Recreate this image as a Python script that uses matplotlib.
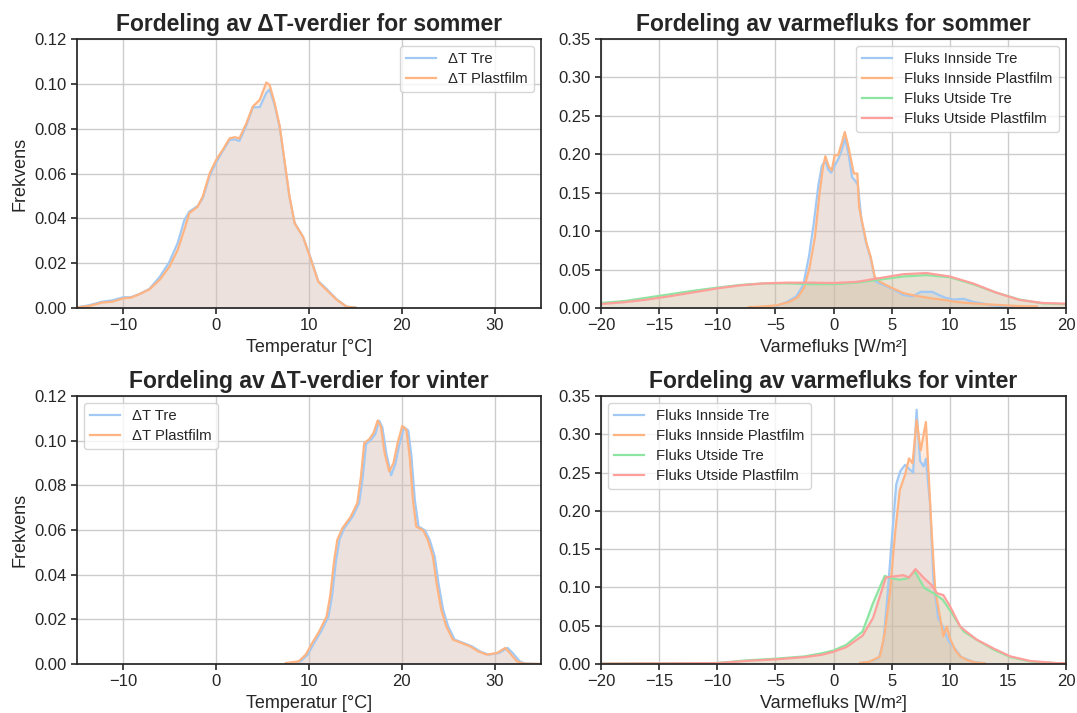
import matplotlib
matplotlib.use("Agg")
import matplotlib.pyplot as plt
from matplotlib.ticker import FormatStrFormatter

# ---------------- data ----------------
# Temperature difference, summer
dt_summer_x = [-15, -13.7, -12.3, -11.2, -10, -9.2, -8.3, -7.2, -6.1, -5.05, -4.15, -3.45,
               -2.9, -2.0, -1.45, -0.7, 0, 0.7, 1.45, 2.0, 2.5, 3.25, 3.95, 4.7, 5.4, 5.75,
               6.3, 6.85, 7.4, 7.9, 8.45, 9.35, 10.1, 11.0, 11.9, 13.0, 14.05, 15.0]
dt_summer_tre = [0.0003, 0.0012, 0.0028, 0.0034, 0.0048, 0.0048, 0.0062, 0.0085, 0.0138, 0.0205,
                 0.0290, 0.0390, 0.0430, 0.0455, 0.0490, 0.0590, 0.0650, 0.0700, 0.0750, 0.0752,
                 0.0745, 0.0815, 0.0895, 0.0896, 0.0960, 0.0975, 0.0905, 0.0805, 0.0640, 0.0495,
                 0.0380, 0.0318, 0.0232, 0.0120, 0.0085, 0.0038, 0.0006, 0.0002]
dt_summer_plast = [0.0003, 0.0009, 0.0024, 0.0028, 0.0043, 0.0046, 0.0061, 0.0083, 0.0125, 0.0184,
                   0.0259, 0.0348, 0.0423, 0.0452, 0.0497, 0.0601, 0.0661, 0.0705, 0.0757, 0.0762,
                   0.0757, 0.0824, 0.0899, 0.0929, 0.1006, 0.0996, 0.0914, 0.0810, 0.0646, 0.0497,
                   0.0378, 0.0318, 0.0229, 0.0117, 0.0080, 0.0036, 0.0006, 0.0002]

# Temperature difference, winter
dt_winter_tre_x = [7.8, 9.1, 9.85, 10.55, 11.3, 12.1, 12.5, 12.9, 13.3, 13.8, 14.7, 15.4, 15.8,
                   16.15, 16.7, 17.15, 17.55, 17.9, 18.35, 18.85, 19.3, 19.75, 20.25, 20.7, 21.05,
                   21.4, 21.8, 22.5, 23.0, 23.55, 23.95, 24.45, 25.0, 25.7, 26.65, 27.55, 28.45,
                   29.35, 30.45, 31.4, 31.95, 32.7, 33.3, 35.0]
dt_winter_tre = [0.0004, 0.0012, 0.0042, 0.0094, 0.0146, 0.0213, 0.0310, 0.0460, 0.0560, 0.0608,
                 0.0660, 0.0720, 0.0839, 0.0985, 0.1005, 0.1030, 0.1090, 0.1060, 0.0940, 0.0845,
                 0.0895, 0.0985, 0.1060, 0.1045, 0.0925, 0.0735, 0.0616, 0.0598, 0.0556, 0.0481,
                 0.0362, 0.0243, 0.0168, 0.0109, 0.0094, 0.0079, 0.0056, 0.0042, 0.0049, 0.0072,
                 0.0049, 0.0012, 0.0002, 0.0]
dt_winter_plast_x = [7.5, 8.9, 9.65, 10.35, 11.1, 11.9, 12.3, 12.7, 13.05, 13.6, 14.5, 15.2, 15.6,
                     15.95, 16.5, 16.95, 17.4, 17.75, 18.15, 18.65, 19.1, 19.55, 20.05, 20.5, 20.85,
                     21.2, 21.55, 22.3, 22.8, 23.35, 23.75, 24.25, 24.8, 25.5, 26.45, 27.35, 28.25,
                     29.15, 30.25, 31.15, 31.65, 32.4, 33.1, 35.0]
dt_winter_plast = [0.0004, 0.0012, 0.0042, 0.0094, 0.0146, 0.0213, 0.0310, 0.0460, 0.0556, 0.0608,
                   0.0660, 0.0720, 0.0839, 0.0989, 0.1007, 0.1034, 0.1090, 0.1063, 0.0944, 0.0862,
                   0.0899, 0.0989, 0.1066, 0.1048, 0.0929, 0.0735, 0.0616, 0.0598, 0.0556, 0.0481,
                   0.0362, 0.0243, 0.0168, 0.0109, 0.0094, 0.0079, 0.0056, 0.0042, 0.0049, 0.0072,
                   0.0049, 0.0012, 0.0002, 0.0]

# Heat flux, summer
flux_s_in_tre_x = [-5.0, -4.0, -3.2, -2.6, -2.1, -1.7, -1.3, -1.0, -0.7, -0.45, -0.2, 0.1, 0.45,
                   0.7, 1.0, 1.3, 1.6, 1.9, 2.1, 2.4, 2.8, 3.2, 3.6, 4.0, 4.6, 5.2, 6.0, 6.8, 7.5,
                   8.5, 9.2, 9.7, 10.3, 11.2, 12.0, 12.9, 13.6, 15.0, 17.5]
flux_s_in_tre = [0.002, 0.008, 0.015, 0.030, 0.068, 0.110, 0.160, 0.185, 0.192, 0.180, 0.176, 0.185,
                 0.195, 0.205, 0.221, 0.200, 0.170, 0.165, 0.160, 0.115, 0.085, 0.065, 0.035, 0.032,
                 0.028, 0.024, 0.017, 0.015, 0.021, 0.021, 0.016, 0.013, 0.011, 0.012, 0.008, 0.0057,
                 0.0035, 0.0015, 0.0012]
flux_s_in_plast_x = [-7.3, -6.0, -4.9, -3.8, -3.05, -2.5, -2.05, -1.6, -1.2, -0.9, -0.7, -0.4,
                     -0.15, 0.1, 0.4, 0.7, 0.97, 1.25, 1.55, 1.75, 2.05, 2.2, 2.55, 2.85, 3.2,
                     3.55, 4.0, 4.55, 5.15, 6.0, 6.85, 7.7, 8.6, 9.75, 10.5, 11.5, 13.2, 15.8, 17.5]
flux_s_in_plast = [0.001, 0.002, 0.0035, 0.0078, 0.0143, 0.0273, 0.053, 0.092, 0.149, 0.184, 0.1975,
                   0.184, 0.179, 0.199, 0.199, 0.214, 0.229, 0.212, 0.190, 0.175, 0.175, 0.1315,
                   0.1055, 0.0838, 0.0664, 0.0404, 0.034, 0.0296, 0.0253, 0.0195, 0.0165, 0.0143,
                   0.0122, 0.010, 0.008, 0.0065, 0.0048, 0.0026, 0.002]
flux_s_out_x = [-20, -18, -16, -14, -12, -10, -8, -6, -4, -2, 0, 2, 4, 6, 8, 10, 12, 14, 16, 18, 20]
flux_s_out_tre = [0.0065, 0.009, 0.0135, 0.018, 0.0225, 0.0265, 0.030, 0.032, 0.032, 0.031, 0.031,
                  0.033, 0.037, 0.041, 0.0428, 0.040, 0.031, 0.020, 0.011, 0.006, 0.005]
flux_s_out_plast = [0.0052, 0.0075, 0.011, 0.0155, 0.0205, 0.0255, 0.0295, 0.032, 0.033, 0.033,
                    0.0325, 0.034, 0.039, 0.044, 0.0455, 0.041, 0.032, 0.020, 0.0105, 0.0065, 0.0056]

# Heat flux, winter
flux_w_in_tre_x = [2.3, 3.1, 3.9, 4.3, 4.65, 5.0, 5.4, 5.75, 6.15, 6.5, 6.85, 7.15, 7.45, 7.75,
                   7.95, 8.3, 8.6, 9.0, 9.4, 9.9, 10.45, 11.0, 12.0, 13.0]
flux_w_in_tre = [0.0012, 0.003, 0.008, 0.030, 0.090, 0.160, 0.235, 0.252, 0.260, 0.255, 0.250,
                 0.332, 0.265, 0.258, 0.268, 0.210, 0.110, 0.060, 0.049, 0.030, 0.020, 0.009,
                 0.003, 0.001]
flux_w_in_plast_x = [2.3, 3.1, 4.0, 4.4, 4.85, 5.3, 5.7, 6.15, 6.5, 6.8, 7.15, 7.5, 7.95, 8.15,
                     8.45, 8.75, 9.1, 9.45, 9.75, 10.0, 10.45, 10.9, 11.5, 12.2, 13.0]
flux_w_in_plast = [0.0015, 0.003, 0.0099, 0.040, 0.0926, 0.171, 0.227, 0.247, 0.2686, 0.262,
                   0.3185, 0.279, 0.316, 0.2577, 0.1708, 0.0969, 0.0665, 0.036, 0.049, 0.034,
                   0.0187, 0.010, 0.005, 0.002, 0.001]
flux_w_out_tre_x = [-20, -15, -10, -7.5, -5, -2.5, -1, 0, 1.1, 2.5, 3.4, 4.4, 5.0, 5.7, 6.4, 7.0,
                    7.8, 8.6, 9.4, 10.2, 10.9, 11.2, 12.3, 13.8, 15.2, 16.9, 19.2, 20]
flux_w_out_tre = [0.0005, 0.0008, 0.0013, 0.0047, 0.0069, 0.0099, 0.014, 0.0177, 0.025, 0.0425,
                  0.0795, 0.115, 0.112, 0.110, 0.112, 0.121, 0.0995, 0.0925, 0.084, 0.066, 0.049,
                  0.0425, 0.0317, 0.0186, 0.0091, 0.0034, 0.001, 0.0008]
flux_w_out_plast_x = [-20, -15, -10, -7.5, -5, -2.5, -1, 0, 1.1, 2.5, 3.4, 4.5, 5.0, 6.0, 6.5,
                      7.05, 7.8, 8.45, 8.9, 9.45, 10.0, 10.9, 11.2, 12.3, 13.8, 15.2, 16.9, 19.2, 20]
flux_w_out_plast = [0.0005, 0.0008, 0.0012, 0.004, 0.006, 0.009, 0.012, 0.016, 0.022, 0.037, 0.060,
                    0.113, 0.114, 0.116, 0.113, 0.124, 0.112, 0.103, 0.0925, 0.090, 0.076, 0.049,
                    0.045, 0.032, 0.020, 0.010, 0.004, 0.0012, 0.001]

dt_labels = ["ΔT Tre", "ΔT Plastfilm"]
flux_labels = ["Fluks Innside Tre", "Fluks Innside Plastfilm", "Fluks Utside Tre", "Fluks Utside Plastfilm"]
colors = ["#a1c9f4", "#ffb482", "#8de5a1", "#ff9f9b"]

# ---------------- style ----------------
dark = "#262626"
plt.rcParams.update({
    "font.family": ["Liberation Sans", "DejaVu Sans"],
    "text.color": dark,
    "axes.labelcolor": dark,
    "axes.edgecolor": dark,
    "axes.linewidth": 1.25,
    "xtick.color": dark,
    "ytick.color": dark,
    "xtick.labelsize": 12,
    "ytick.labelsize": 12,
    "axes.labelsize": 13,
    "xtick.major.size": 4,
    "ytick.major.size": 4,
    "xtick.major.width": 1.2,
    "ytick.major.width": 1.2,
    "grid.color": "#cccccc",
    "grid.linewidth": 1.0,
    "legend.fontsize": 10.75,
    "legend.labelspacing": 0.4,
    "legend.framealpha": 0.8,
    "legend.edgecolor": "#cccccc",
})

fig = plt.figure(figsize=(10.77, 7.13), dpi=100)
W, H = 1077.0, 713.0


def make_axes(left, top, right, bottom):
    return fig.add_axes([left / W, 1 - bottom / H, (right - left) / W, (bottom - top) / H])


ax_ts = make_axes(77, 39, 541, 308)
ax_fs = make_axes(601, 39, 1066, 308)
ax_tw = make_axes(77, 396, 541, 664)
ax_fw = make_axes(601, 396, 1066, 664)


def density(ax, x, y, color, label):
    ax.fill_between(x, y, 0, color=color, alpha=0.25, lw=0)
    ax.plot(x, y, color=color, lw=1.6, label=label)


def style_axes(ax, title, xlabel, xlim, ylim, yfmt, ylabel=None):
    ax.set_axisbelow(True)
    ax.grid(True)
    ax.set_xlim(*xlim)
    ax.set_ylim(*ylim)
    ax.yaxis.set_major_formatter(FormatStrFormatter(yfmt))
    ax.set_title(title, fontsize=16.5, fontweight="bold", color=dark)
    ax.set_xlabel(xlabel)
    if ylabel:
        ax.set_ylabel(ylabel)


# Summer temperature difference
density(ax_ts, dt_summer_x, dt_summer_tre, colors[0], dt_labels[0])
density(ax_ts, dt_summer_x, dt_summer_plast, colors[1], dt_labels[1])
style_axes(ax_ts, "Fordeling av ΔT-verdier for sommer", "Temperatur [°C]", (-15, 35), (0, 0.12), "%.2f", "Frekvens")
ax_ts.set_yticks([0, 0.02, 0.04, 0.06, 0.08, 0.10, 0.12])
ax_ts.legend(loc="upper right")

# Summer heat flux
density(ax_fs, flux_s_in_tre_x, flux_s_in_tre, colors[0], flux_labels[0])
density(ax_fs, flux_s_in_plast_x, flux_s_in_plast, colors[1], flux_labels[1])
density(ax_fs, flux_s_out_x, flux_s_out_tre, colors[2], flux_labels[2])
density(ax_fs, flux_s_out_x, flux_s_out_plast, colors[3], flux_labels[3])
style_axes(ax_fs, "Fordeling av varmefluks for sommer", "Varmefluks [W/m²]", (-20, 20), (0, 0.35), "%.2f")
ax_fs.set_yticks([0, 0.05, 0.10, 0.15, 0.20, 0.25, 0.30, 0.35])
ax_fs.legend(loc="upper right")

# Winter temperature difference
density(ax_tw, dt_winter_tre_x, dt_winter_tre, colors[0], dt_labels[0])
density(ax_tw, dt_winter_plast_x, dt_winter_plast, colors[1], dt_labels[1])
style_axes(ax_tw, "Fordeling av ΔT-verdier for vinter", "Temperatur [°C]", (-15, 35), (0, 0.12), "%.2f", "Frekvens")
ax_tw.set_yticks([0, 0.02, 0.04, 0.06, 0.08, 0.10, 0.12])
ax_tw.legend(loc="upper left")

# Winter heat flux
density(ax_fw, flux_w_in_tre_x, flux_w_in_tre, colors[0], flux_labels[0])
density(ax_fw, flux_w_in_plast_x, flux_w_in_plast, colors[1], flux_labels[1])
density(ax_fw, flux_w_out_tre_x, flux_w_out_tre, colors[2], flux_labels[2])
density(ax_fw, flux_w_out_plast_x, flux_w_out_plast, colors[3], flux_labels[3])
style_axes(ax_fw, "Fordeling av varmefluks for vinter", "Varmefluks [W/m²]", (-20, 20), (0, 0.35), "%.2f")
ax_fw.set_yticks([0, 0.05, 0.10, 0.15, 0.20, 0.25, 0.30, 0.35])
ax_fw.legend(loc="upper left")

fig.savefig("out.png", dpi=100)
